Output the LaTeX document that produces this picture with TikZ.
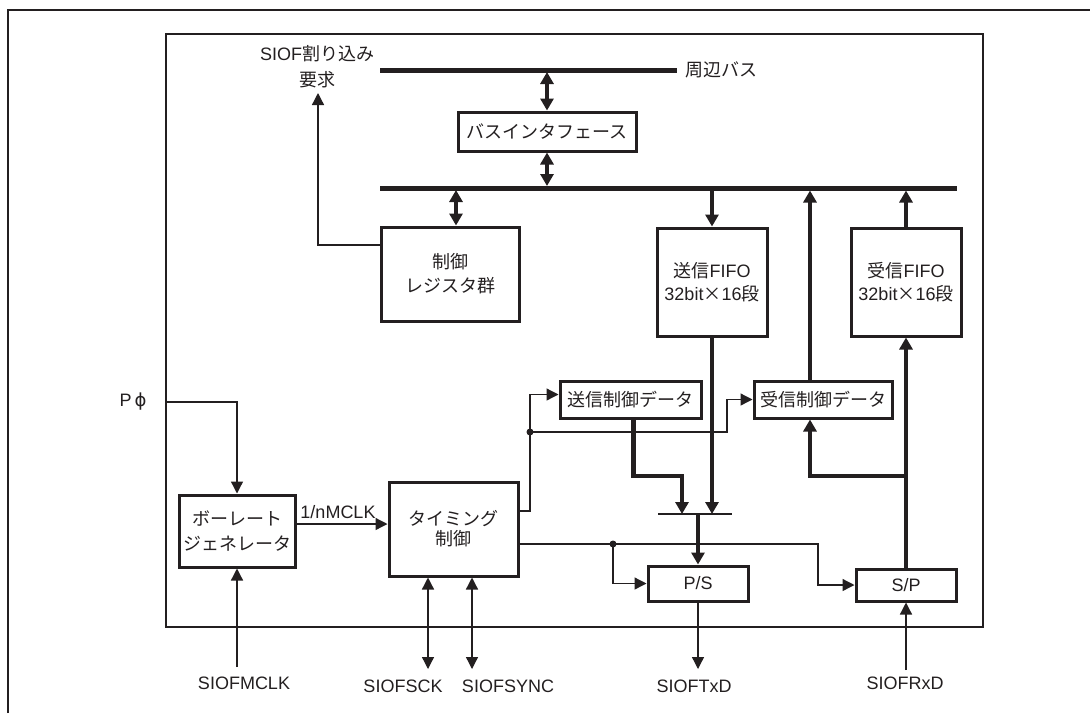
\documentclass[tikz,border=0pt]{standalone}
\usepackage{fontspec}
\setmainfont{Liberation Sans}
\newfontfamily\jp{Noto Sans CJK JP}
\newfontfamily\dv{DejaVu Sans}
\usetikzlibrary{arrows.meta}
\definecolor{ink}{RGB}{35,31,32}
\begin{document}
\begin{tikzpicture}[x=1pt,y=-1pt,
  every node/.style={text=ink, font=\fontsize{18}{23}\selectfont},
  jpf/.style={font=\jp\fontsize{18}{23}\selectfont},
  blk/.style={draw=ink, line width=3pt, inner sep=0pt, align=center},
  wire/.style={draw=ink, line width=1.3pt},
  wirearr/.style={wire, -{Triangle[width=12pt,length=12pt]}},
  wirebi/.style={wire, {Triangle[width=12pt,length=12pt]}-{Triangle[width=12pt,length=12pt]}},
  busline/.style={draw=ink, line width=5pt},
  farr/.style={draw=ink, line width=4.8pt, -{Triangle[width=13pt,length=12pt]}},
  fbi/.style={draw=ink, line width=4.8pt, {Triangle[width=13pt,length=12pt]}-{Triangle[width=13pt,length=12pt]}}
]
\useasboundingbox (0,0) rectangle (1090,713);
% outer and inner frames
\draw[draw=ink, line width=2pt] (8,713) -- (8,9.5) -- (1090,9.5);
\draw[draw=ink, line width=2.7pt] (166,34) rectangle (983,627);

% buses
\coordinate (pbusL) at (380,70); \coordinate (pbusR) at (677,70);
\coordinate (ibusL) at (380,188); \coordinate (ibusR) at (957,188);
\draw[busline] (pbusL) -- (pbusR);
\draw[busline] (ibusL) -- (ibusR);
\node[anchor=west, jpf] (pbuslabel) at (682,70) {周辺バス};

% blocks
\node[blk, jpf, minimum width=178pt, minimum height=39pt] (busif) at (547,131.5) {バスインタフェース};
\node[blk, minimum width=138pt, minimum height=94pt, font=\jp\fontsize{18}{24}\selectfont] (ctrl) at (450,274) {制御\\レジスタ群};
\node[blk, minimum width=110pt, minimum height=108pt] (txfifo) at (712,282) {{\jp 送信}FIFO\\32bit{\jp ×}16{\jp 段}};
\node[blk, minimum width=110pt, minimum height=108pt] (rxfifo) at (906,282) {{\jp 受信}FIFO\\32bit{\jp ×}16{\jp 段}};
\node[blk, jpf, minimum width=141pt, minimum height=37pt] (txcd) at (630.5,399.5) {送信制御データ};
\node[blk, jpf, minimum width=138pt, minimum height=37pt] (rxcd) at (823,399.5) {受信制御データ};
\node[blk, minimum width=129pt, minimum height=94pt, font=\jp\fontsize{18}{20}\selectfont] (timing) at (453.5,529) {タイミング\\制御};
\node[blk, minimum width=116pt, minimum height=72pt, font=\jp\fontsize{18}{25}\selectfont] (baud) at (237,531) {ボーレート\\ジェネレータ};
\node[blk, minimum width=100pt, minimum height=35pt] (ps) at (698,583.5) {P/S};
\node[blk, minimum width=100pt, minimum height=32pt] (sp) at (906,585) {S/P};

% bus interface / control register connections
\draw[fbi, shorten <=2pt] (busif.north |- pbusL) -- (busif.north);
\draw[fbi, shorten >=2pt] (busif.south) -- (busif.south |- ibusL);
\coordinate (ctrltop) at ([xshift=6pt]ctrl.north);
\draw[fbi, shorten <=2pt] (ctrltop |- ibusL) -- (ctrltop);

% interrupt request
\node[align=center, font=\jp\fontsize{18}{26}\selectfont] (intr) at (317,67) {{\rmfamily SIOF}割り込み\\要求};
\coordinate (intrtip) at (318,93);
\coordinate (ctrlint) at ([yshift=29pt]ctrl.west);
\draw[wirearr] (ctrlint) -| (intrtip);

% FIFO connections
\draw[farr, shorten <=2pt] (txfifo.north |- ibusL) -- (txfifo.north);
\coordinate (rxup) at ([xshift=-13pt]rxcd.north);
\coordinate (rxin) at ([xshift=-13pt]rxcd.south);
\draw[farr, shorten >=2.5pt] (rxup) -- (rxup |- ibusL);
\draw[farr, shorten >=2.5pt] (rxfifo.north) -- (rxfifo.north |- ibusL);
\draw[farr] (sp.north) -- (rxfifo.south);
\coordinate (jog) at (0,476);
\draw[farr] (sp.north |- jog) -| (rxin);

% transmit path
\coordinate (barL) at (658,514); \coordinate (barR) at (732,514);
\coordinate (barIn) at (682,514);
\draw[wire] (barL) -- (barR);
\coordinate (txo) at ([xshift=3pt]txcd.south);
\draw[farr] (txo) |- (jog -| barIn) -- (barIn);
\draw[farr] (txfifo.south) -- (txfifo.south |- barL);
\draw[farr] (ps.north |- barL) -- (ps.north);

% timing control outputs
\coordinate (tu) at ([yshift=18pt]timing.east);
\coordinate (dot1) at (530,432);
\coordinate (txin) at ([yshift=5pt]txcd.west);
\draw[wirearr] (tu) -| (dot1) |- (txin);
\coordinate (rxjog) at (727,0);
\draw[wirearr] (dot1) -| (rxjog |- rxcd.west) -- (rxcd.west);
\fill[ink] (dot1) circle (3.5pt);

\coordinate (tl) at ([yshift=-15pt]timing.east);
\coordinate (dot2) at (613,544);
\coordinate (spjog) at (818,544);
\draw[wire] (tl) -- (dot2);
\draw[wirearr] (dot2) |- (ps.west);
\draw[wirearr] (dot2) -- (spjog) |- (sp.west);
\fill[ink] (dot2) circle (3.5pt);

% clock inputs
\node (pphi) at (133,402) {P\,{\dv ϕ}};
\coordinate (pin) at (166,402);
\draw[wirearr] (pin) -| (baud.north);
\coordinate (mclk) at ([yshift=7pt]baud.east);
\draw[wirearr] (mclk) -- (mclk -| timing.west);
\node (mclklabel) at (338,512) {1/nMCLK};

% external pins
\node (siofmclk) at (244,683) {SIOFMCLK};
\coordinate (mclkin) at (237,667);
\draw[wirearr] (mclkin) -- (baud.south);

\coordinate (sckend) at (428,669);
\coordinate (syncend) at (472,669);
\draw[wirebi] (sckend |- timing.south) -- (sckend);
\draw[wirebi] (syncend |- timing.south) -- (syncend);
\node (siofsck) at (403,686) {SIOFSCK};
\node (siofsync) at (508,686) {SIOFSYNC};

\coordinate (txout) at (698,669);
\draw[wirearr] (ps.south) -- (txout);
\node (sioftxd) at (694,686) {SIOFTxD};

\coordinate (rxinp) at (906,670);
\draw[wirearr] (rxinp) -- (sp.south);
\node (siofrxd) at (905,683) {SIOFRxD};
\end{tikzpicture}
\end{document}
